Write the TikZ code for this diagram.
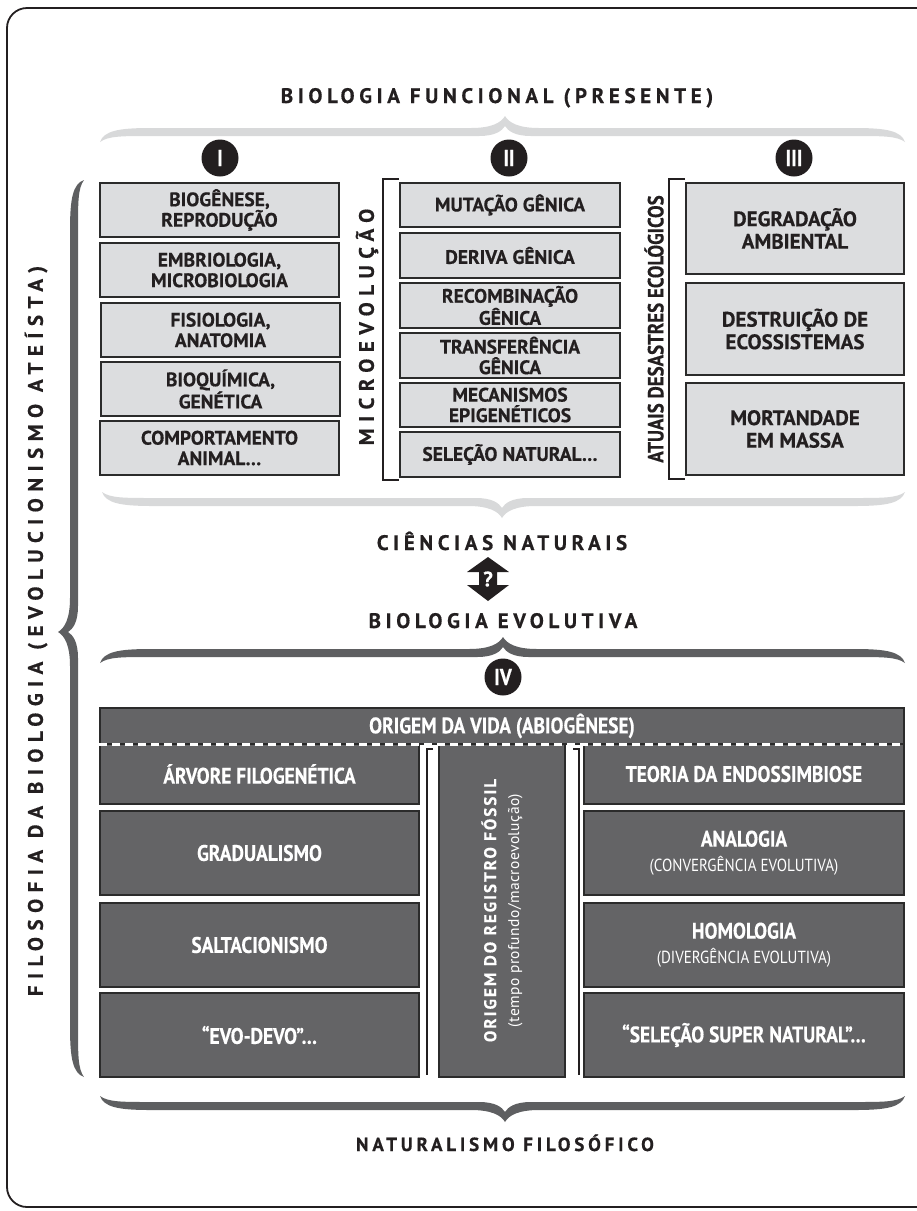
\documentclass[tikz,border=0pt]{standalone}
\usepackage{fontspec}
\setmainfont{PT Sans}[BoldFeatures={FakeBold=0.5}]
\newfontfamily\narrowfont{PT Sans}[FakeStretch=0.86, BoldFeatures={FakeBold=0.4}]
\newcommand\subfont{\narrowfont\mdseries\fontsize{17.5}{17}\selectfont}

\definecolor{ink}{HTML}{231F20}
\definecolor{paleFill}{HTML}{DCDDDF}
\definecolor{paleBrace}{HTML}{D8D9DA}
\definecolor{darkFill}{HTML}{646466}
\definecolor{darkBrace}{HTML}{5E5F61}
\definecolor{edge}{HTML}{2B2B2B}

% Tapered curly brace: #1 start, #2 end (along the bar), #3 position of the tip,
% #4 bar position (across), #5 side of the tip (+1 / -1), #6 colour
\newcommand\curlyband[6]{%
  \fill[#6]
    ({#1},{#4-(#5)*10})
    .. controls ({#1+4},{#4+(#5)*1}) and ({#1+18},{#4+(#5)*4}) .. ({#1+50},{#4+(#5)*4})
    -- ({#3-34},{#4+(#5)*4})
    .. controls ({#3-14},{#4+(#5)*4}) and ({#3-4},{#4+(#5)*9}) .. ({#3},{#4+(#5)*16})
    .. controls ({#3+4},{#4+(#5)*9}) and ({#3+14},{#4+(#5)*4}) .. ({#3+34},{#4+(#5)*4})
    -- ({#2-50},{#4+(#5)*4})
    .. controls ({#2-18},{#4+(#5)*4}) and ({#2-4},{#4+(#5)*1}) .. ({#2},{#4-(#5)*10})
    .. controls ({#2-8},{#4-(#5)*4}) and ({#2-22},{#4-(#5)*4}) .. ({#2-50},{#4-(#5)*4})
    -- ({#3+26},{#4-(#5)*4})
    .. controls ({#3+10},{#4-(#5)*4}) and ({#3+3},{#4+(#5)*1}) .. ({#3},{#4+(#5)*6})
    .. controls ({#3-3},{#4+(#5)*1}) and ({#3-10},{#4-(#5)*4}) .. ({#3-26},{#4-(#5)*4})
    -- ({#1+50},{#4-(#5)*4})
    .. controls ({#1+22},{#4-(#5)*4}) and ({#1+8},{#4-(#5)*4}) .. cycle;
}

% Box from its corners: #1 name, #2 x1, #3 y1, #4 x2, #5 y2, #6 style, #7 text
\newcommand\boxat[7]{%
  \node[#6, minimum width={#4-#2}, minimum height={#5-#3}] (#1)
    at ({(#2+#4)/2},{(#3+#5)/2}) {#7};}

\begin{document}
\begin{tikzpicture}[x=1pt,y=-1pt,
  every node/.style={inner sep=0pt},
  frame/.style={draw=ink, line width=1.8pt, rounded corners=20pt},
  title/.style={anchor=base, text=ink, font=\bfseries\fontsize{21}{21}\selectfont\addfontfeature{LetterSpace=22}},
  smalltitle/.style={anchor=base, text=ink, font=\bfseries\fontsize{19}{19}\selectfont\addfontfeature{LetterSpace=20}},
  sidetitle/.style={text=ink, rotate=90, font=\bfseries\fontsize{21}{21}\selectfont\addfontfeature{LetterSpace=31}},
  narrowside/.style={text=ink, rotate=90, font=\narrowfont\bfseries\fontsize{22}{22}\selectfont},
  numeral/.style={circle, fill=ink, minimum size=37pt, text=white, font=\narrowfont\bfseries\fontsize{23}{23}\selectfont},
  palebox/.style={draw=edge, fill=paleFill, line width=1.3pt, align=center, text=ink, font=\bfseries\fontsize{19.5}{20.5}\selectfont},
  bigpale/.style={palebox, font=\bfseries\fontsize{21}{22.5}\selectfont},
  darkbox/.style={draw=edge, fill=darkFill, line width=1.3pt, align=center, text=white, font=\narrowfont\bfseries\fontsize{22.5}{25}\selectfont},
  bracketline/.style={draw=ink, line width=2pt},
  gapline/.style={draw=ink, line width=2.2pt},
  qmark/.style={text=white, font=\bfseries\fontsize{21}{21}\selectfont},
]
\useasboundingbox (0,0) rectangle (917,1211);

% outer frame (its right side runs off the page)
\draw[frame] (7,8) rectangle (945,1207);

% ---------- functional biology ----------
\node[title] (funcional) at (497,103) {BIOLOGIA FUNCIONAL (PRESENTE)};
\curlyband{100}{905}{505}{132}{-1}{paleBrace}

\node[numeral] (n1) at (220,158) {I};
\node[numeral] (n2) at (509,158) {II};
\node[numeral] (n3) at (794,158) {III};

% column I
\boxat{b1}{100}{183}{339}{237}{palebox}{BIOGÊNESE,\\REPRODUÇÃO}
\boxat{b2}{100}{243}{339}{297}{palebox}{EMBRIOLOGIA,\\MICROBIOLOGIA}
\boxat{b3}{101}{303}{340}{357}{palebox}{FISIOLOGIA,\\ANATOMIA}
\boxat{b4}{101}{362}{340}{416}{palebox}{BIOQUÍMICA,\\GENÉTICA}
\boxat{b5}{100}{421}{339}{475}{palebox}{COMPORTAMENTO\\ANIMAL…}

% column II
\node[sidetitle] (micro) at (367,327) {MICROEVOLUÇÃO};
\draw[bracketline] (399,179) -- (383,179) -- (383,480) -- (399,480);
\boxat{m1}{400}{183}{620}{227}{palebox}{MUTAÇÃO GÊNICA}
\boxat{m2}{400}{233}{620}{278}{palebox}{DERIVA GÊNICA}
\boxat{m3}{400}{283}{620}{328}{palebox}{RECOMBINAÇÃO\\GÊNICA}
\boxat{m4}{400}{333}{620}{378}{palebox}{TRANSFERÊNCIA\\GÊNICA}
\boxat{m5}{400}{383}{620}{427}{palebox}{MECANISMOS\\EPIGENÉTICOS}
\boxat{m6}{400}{432}{620}{477}{palebox}{SELEÇÃO NATURAL…}

% column III
\node[narrowside] (desastres) at (654,329) {ATUAIS DESASTRES ECOLÓGICOS};
\draw[bracketline] (685,179) -- (669,179) -- (669,479) -- (685,479);
\boxat{e1}{686}{183}{904}{274}{bigpale}{DEGRADAÇÃO\\AMBIENTAL}
\boxat{e2}{686}{283}{904}{375}{bigpale}{DESTRUIÇÃO DE\\ECOSSISTEMAS}
\boxat{e3}{686}{383}{904}{475}{bigpale}{MORTANDADE\\EM MASSA}

\curlyband{102}{905}{502}{502}{1}{paleBrace}

% ---------- link between the two fields ----------
\node[title] (naturais) at (502,550) {CIÊNCIAS NATURAIS};
\coordinate (link) at (488,579);
\fill[ink, shift={(link)}] (0,-22) -- (21,-7) -- (9,-7) -- (9,6) -- (21,6)
  -- (0,22) -- (-21,6) -- (-9,6) -- (-9,-7) -- (-21,-7) -- cycle;
\node[qmark] (q) at (link) {?};
\node[title] (evolutiva) at (503,628) {BIOLOGIA EVOLUTIVA};

% ---------- evolutionary biology ----------
\curlyband{100}{905}{503}{653}{-1}{darkBrace}
\node[numeral] (n4) at (503,677) {IV};

% rows
\boxat{d1}{100}{744}{419}{804}{darkbox}{ÁRVORE FILOGENÉTICA}
\boxat{d2}{100}{811}{419}{895}{darkbox}{GRADUALISMO}
\boxat{d3}{100}{903}{419}{987}{darkbox}{SALTACIONISMO}
\boxat{d4}{100}{993}{419}{1077}{darkbox}{“EVO-DEVO”…}

\boxat{fossil}{439}{744}{565}{1077}{darkbox}{}
\node[text=white, rotate=90, align=center, font=\fontsize{17}{23}\selectfont] (fossiltext) at (fossil.center)
  {{\bfseries\addfontfeature{LetterSpace=12}ORIGEM DO REGISTRO FÓSSIL}\\
   {\fontsize{15.5}{16}\selectfont\addfontfeature{LetterSpace=3}(tempo profundo/macroevolução)}};

\boxat{r1}{584}{744}{904}{804}{darkbox}{TEORIA DA ENDOSSIMBIOSE}
\boxat{r2}{584}{811}{904}{895}{darkbox}{ANALOGIA\\{\subfont (CONVERGÊNCIA EVOLUTIVA)}}
\boxat{r3}{584}{903}{904}{987}{darkbox}{HOMOLOGIA\\{\subfont (DIVERGÊNCIA EVOLUTIVA)}}
\boxat{r4}{584}{993}{904}{1077}{darkbox}{“SELEÇÃO SUPER NATURAL”…}

% origin of life band with its dashed lower edge
\boxat{vida}{100}{708}{904}{744}{darkbox}{ORIGEM DA VIDA (ABIOGÊNESE)}
\draw[white, line width=2.5pt, dash pattern=on 8pt off 5pt] (vida.south west) -- (vida.south east);

% brackets in the white gaps
\draw[gapline] (433,749) -- (427,749) -- (427,1075);
\draw[gapline] (573,749) -- (579,749) -- (579,1075);

\curlyband{100}{905}{505}{1106}{1}{darkBrace}
\node[smalltitle] (naturalismo) at (505,1151) {NATURALISMO FILOSÓFICO};

% ---------- philosophy of biology ----------
\begin{scope}[shift={(74,632)}, rotate=90]
  \curlyband{-445}{452}{0}{0}{-1}{darkBrace}
\end{scope}
\node[sidetitle] (filosofia) at (36,631) {FILOSOFIA DA BIOLOGIA (EVOLUCIONISMO ATEÍSTA)};

\end{tikzpicture}
\end{document}
